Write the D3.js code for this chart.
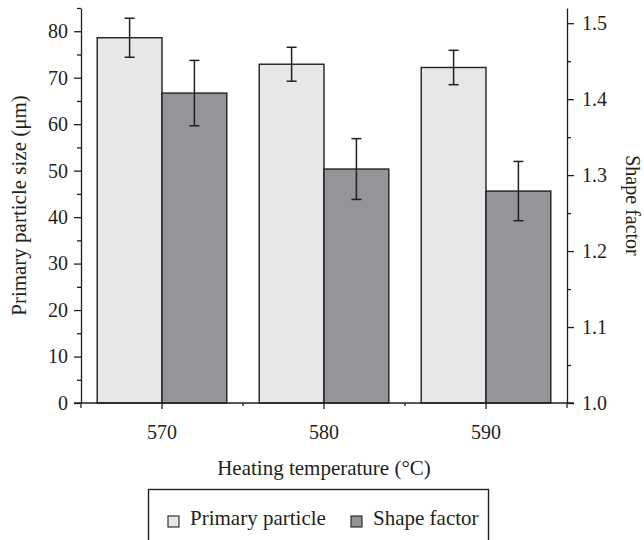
<!DOCTYPE html>
<html lang="en">
<head>
  <meta charset="UTF-8" />
  <title>Primary particle size and shape factor vs heating temperature</title>
  <script src="https://cdn.jsdelivr.net/npm/d3@7"></script>
  <style>
    html, body { margin: 0; padding: 0; background: #fff; }
    svg { display: block; }
    text { font-family: "Liberation Serif", "DejaVu Serif", serif; fill: #231f20; }
  </style>
</head>
<body>
  <script>
    // ------ Data ------
    const temps = ["570", "580", "590"];
    const primarySize = [78.6, 72.9, 72.2];      // μm, left axis
    const primaryErr  = [4.2, 3.65, 3.7];
    const shapeFactor = [1.408, 1.308, 1.279];   // right axis
    const shapeErr    = [0.043, 0.040, 0.039];
    const seriesNames = ["Primary particle", "Shape factor"];
    const leftTicks  = [0, 10, 20, 30, 40, 50, 60, 70, 80];
    const rightTicks = [1.0, 1.1, 1.2, 1.3, 1.4, 1.5];

    const width = 644, height = 540;
    const ink = "#231f20";
    const fills = ["#e6e7e8", "#939598"];
    const tickFont = 20;
    const labelFont = 21;

    // plot area
    const plotL = 81, plotR = 567, plotT = 8, plotB = 403;

    const svg = d3.select("body").append("svg")
      .attr("width", width)
      .attr("height", height);

    // ------ Scales ------
    const x0 = d3.scaleBand().domain(temps).range([plotL, plotR])
      .paddingInner(0.2).paddingOuter(0.1);
    const x1 = d3.scaleBand().domain(seriesNames).range([0, x0.bandwidth()]);
    const yL = d3.scaleLinear().domain([0, 85]).range([plotB, plotT]);
    const yR = d3.scaleLinear().domain([1.0, 1.52]).range([plotB, plotT]);

    // rows: one per category and series
    const rows = [];
    temps.forEach((t, i) => {
      rows.push({ t, s: 0, v: primarySize[i], e: primaryErr[i], y: yL });
      rows.push({ t, s: 1, v: shapeFactor[i], e: shapeErr[i], y: yR });
    });

    // ------ Bars ------
    svg.append("g").selectAll("rect")
      .data(rows)
      .join("rect")
      .attr("x", d => x0(d.t) + x1(seriesNames[d.s]))
      .attr("y", d => d.y(d.v))
      .attr("width", x1.bandwidth())
      .attr("height", d => d.y.range()[0] - d.y(d.v))
      .attr("fill", d => fills[d.s])
      .attr("stroke", ink)
      .attr("stroke-width", 1.4);

    // ------ Error bars ------
    const capW = 5;
    const eb = svg.append("g").attr("stroke", ink).attr("stroke-width", 1.5);
    rows.forEach(d => {
      const cx = x0(d.t) + x1(seriesNames[d.s]) + x1.bandwidth() / 2;
      const y1 = d.y(d.v + d.e), y2 = d.y(d.v - d.e);
      eb.append("line").attr("x1", cx).attr("x2", cx).attr("y1", y1).attr("y2", y2);
      eb.append("line").attr("x1", cx - capW).attr("x2", cx + capW).attr("y1", y1).attr("y2", y1);
      eb.append("line").attr("x1", cx - capW).attr("x2", cx + capW).attr("y1", y2).attr("y2", y2);
    });

    // ------ Axes ------
    function styleAxis(g) {
      g.selectAll("path, line").attr("stroke", ink).attr("stroke-width", 1.3);
      g.selectAll("text")
        .attr("fill", ink)
        .style("font-family", '"Liberation Serif", serif')
        .style("font-size", tickFont + "px");
    }

    // left minor ticks
    svg.append("g")
      .attr("transform", `translate(${plotL},0)`)
      .call(d3.axisLeft(yL).tickValues(d3.range(5, 90, 10)).tickSize(4).tickFormat(""))
      .call(styleAxis)
      .select(".domain").remove();
    // left major
    svg.append("g")
      .attr("transform", `translate(${plotL},0)`)
      .call(d3.axisLeft(yL).tickValues(leftTicks).tickSize(7).tickSizeOuter(0).tickPadding(6))
      .call(styleAxis);

    // right minor ticks
    svg.append("g")
      .attr("transform", `translate(${plotR},0)`)
      .call(d3.axisRight(yR).tickValues(d3.range(1.05, 1.5, 0.1)).tickSize(4).tickFormat(""))
      .call(styleAxis)
      .select(".domain").remove();
    // right major
    svg.append("g")
      .attr("transform", `translate(${plotR},0)`)
      .call(d3.axisRight(yR).tickValues(rightTicks).tickSize(7).tickSizeOuter(0)
        .tickPadding(8).tickFormat(d3.format(".1f")))
      .call(styleAxis);

    // small extension of the y axis lines below the baseline
    svg.append("g").attr("stroke", ink).attr("stroke-width", 1.3)
      .selectAll("line").data([plotL, plotR]).join("line")
      .attr("x1", d => d).attr("x2", d => d)
      .attr("y1", plotB).attr("y2", plotB + 5);

    // bottom axis: baseline, ticks at category centres, minor at boundaries
    svg.append("line")
      .attr("x1", plotL - 7).attr("x2", plotR + 7)
      .attr("y1", plotB).attr("y2", plotB)
      .attr("stroke", ink).attr("stroke-width", 1.3);
    const xAxis = svg.append("g")
      .attr("transform", `translate(0,${plotB})`)
      .call(d3.axisBottom(x0).tickSize(6).tickSizeOuter(0).tickPadding(16))
      .call(styleAxis);
    xAxis.select(".domain").remove();
    const bounds = temps.slice(1).map(t => x0(t) - x0.step() * x0.paddingInner() / 2);
    svg.append("g").attr("stroke", ink).attr("stroke-width", 1.3)
      .selectAll("line").data(bounds).join("line")
      .attr("x1", d => d).attr("x2", d => d)
      .attr("y1", plotB).attr("y2", plotB + 3);

    // ------ Axis titles ------
    svg.append("text")
      .attr("transform", `translate(26,${(plotT + plotB) / 2}) rotate(-90)`)
      .attr("text-anchor", "middle")
      .style("font-size", labelFont + "px")
      .text("Primary particle size (μm)");

    svg.append("text")
      .attr("transform", `translate(626,${(plotT + plotB) / 2}) rotate(90)`)
      .attr("text-anchor", "middle")
      .style("font-size", "20px")
      .text("Shape factor");

    svg.append("text")
      .attr("x", (plotL + plotR) / 2)
      .attr("y", 475)
      .attr("text-anchor", "middle")
      .style("font-size", labelFont + "px")
      .text("Heating temperature (°C)");

    // ------ Legend ------
    const legend = svg.append("g");
    legend.append("rect")
      .attr("x", 148.5).attr("y", 489.5)
      .attr("width", 340).attr("height", 70)
      .attr("fill", "none").attr("stroke", ink).attr("stroke-width", 1.4);
    const legX = [168, 351];
    seriesNames.forEach((name, i) => {
      legend.append("rect")
        .attr("x", legX[i]).attr("y", 516)
        .attr("width", 11).attr("height", 11)
        .attr("fill", fills[i]).attr("stroke", ink).attr("stroke-width", 1.1);
      legend.append("text")
        .attr("x", legX[i] + 22).attr("y", 525)
        .style("font-size", labelFont + "px")
        .text(name);
    });
  </script>
</body>
</html>
